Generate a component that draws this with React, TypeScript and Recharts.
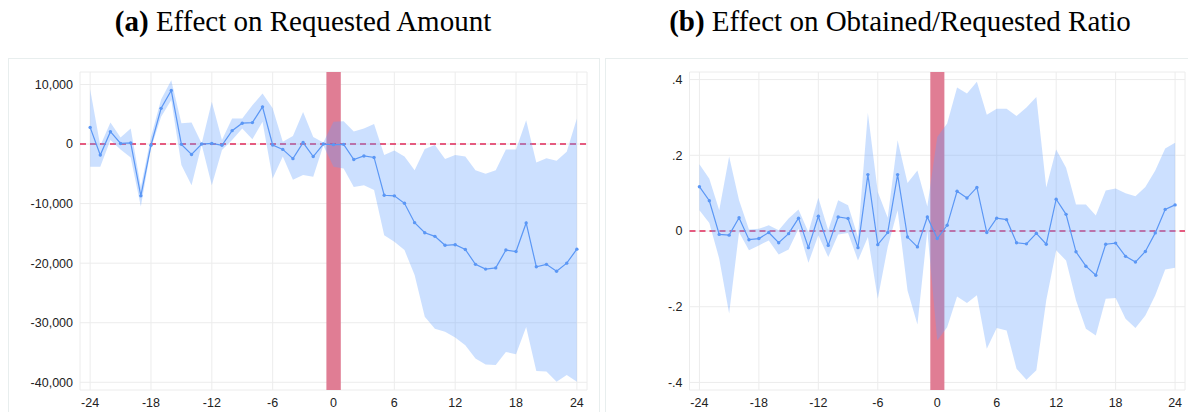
import React from 'react';
import {
  ComposedChart, Line, Area, XAxis, YAxis, CartesianGrid, ReferenceLine, ReferenceArea,
} from 'recharts';

// event time, months relative to treatment
const periods = [
  -24, -23, -22, -21, -20, -19, -18, -17, -16, -15, -14, -13, -12, -11, -10, -9, -8,
  -7, -6, -5, -4, -3, -2, -1, 0, 1, 2, 3, 4, 5, 6, 7, 8, 9, 10, 11, 12, 13, 14, 15, 16,
  17, 18, 19, 20, 21, 22, 23, 24,
];

// (a) requested amount
const amountCoef = [
  2800, -1850, 2070, 100, 200, -8700, -200, 6000, 9000, -50, -1750, 0, 100, -200, 2250, 3500, 3600,
  6250, -150, -900, -2450, 250, -2100, 0, -100, -50, -2600, -2000, -2250, -8600, -8700, -9950, -13200,
  -14900, -15500, -17000, -16900, -17700, -20200, -21000, -20800, -17800, -18050, -13250, -20600,
  -20200, -21350, -20000, -17650,
];
const amountHigh = [
  9200, -300, 3600, 1100, 2600, -7200, 1200, 7500, 10700, 3500, 3600, 100, 7100, 700, 4300, 4300, 6500,
  8500, 6000, 400, 1350, 5400, 1200, 250, 3750, 3850, 2100, 2600, 3350, -1850, -1100, -2100, -4400,
  -850, -150, -2500, -1850, -2100, -4400, -5000, -4400, -900, -900, 4000, -3100, -2400, -2800, -1300, 4300,
];
const amountLow = [
  -3800, -3800, 700, -900, -2250, -10500, -700, 4600, 7400, -3500, -6900, -100, -6900, -1000, 700, 2600, 800,
  3750, -5800, -2100, -6000, -5200, -5500, -250, -3800, -4100, -7200, -6900, -7700, -15300, -16400, -17800,
  -22000, -29000, -31000, -31500, -32500, -33800, -36000, -37000, -37100, -34900, -35300, -30700, -38100,
  -38200, -39900, -38800, -39900,
];

// (b) obtained / requested ratio
const ratioCoef = [
  0.117, 0.080, -0.009, -0.011, 0.035, -0.023, -0.020, -0.004, -0.031, -0.007, 0.034, -0.044, 0.039,
  -0.038, 0.037, 0.033, -0.044, 0.149, -0.036, -0.004, 0.149, -0.016, -0.042, 0.037, -0.020, 0.015,
  0.105, 0.087, 0.115, -0.004, 0.034, 0.030, -0.031, -0.034, -0.006, -0.035, 0.084, 0.044, -0.055,
  -0.093, -0.117, -0.035, -0.032, -0.067, -0.082, -0.054, -0.005, 0.057, 0.069,
];
const ratioHigh = [
  0.176, 0.138, 0.055, 0.197, 0.081, 0.004, 0.006, 0.015, 0.002, 0.033, 0.057, -0.003, 0.088, 0.002,
  0.081, 0.068, -0.016, 0.312, 0.103, 0.035, 0.240, 0.127, 0.160, 0.065, 0.248, 0.284, 0.379, 0.363,
  0.394, 0.307, 0.323, 0.323, 0.304, 0.326, 0.354, 0.115, 0.215, 0.167, 0.070, 0.070, 0.041, 0.107,
  0.112, 0.100, 0.092, 0.116, 0.160, 0.218, 0.233,
];
const ratioLow = [
  0.055, 0.021, -0.073, -0.218, -0.003, -0.051, -0.038, -0.025, -0.062, -0.049, 0.006, -0.084, -0.011,
  -0.069, -0.009, -0.005, -0.078, -0.016, -0.179, -0.042, 0.055, -0.157, -0.247, 0.0, -0.289, -0.254,
  -0.173, -0.190, -0.170, -0.311, -0.256, -0.263, -0.364, -0.393, -0.368, -0.183, -0.051, -0.078,
  -0.183, -0.258, -0.276, -0.179, -0.177, -0.232, -0.256, -0.223, -0.170, -0.102, -0.097,
];

const xTicks = [-24, -18, -12, -6, 0, 6, 12, 18, 24];
const amountTicks = [-40000, -30000, -20000, -10000, 0, 10000];
const ratioTicks = [-0.4, -0.2, 0, 0.2, 0.4];

const LINE = '#5b97f5';
const BAND = 'rgb(100,160,255)';
const BAR = '#e07d94';
const ZERO = '#e0285a';
const GRID = '#ececec';
const tickStyle = { fontFamily: '"Liberation Sans", Arial, sans-serif', fontSize: 12.5, fill: '#222' };

const buildRows = (coef: number[], low: number[], high: number[]) =>
  periods.map((p, i) => ({ t: p, coef: coef[i], band: [low[i], high[i]] }));

const fmtAmount = (v: number) => v.toLocaleString('en-US');
const fmtRatio = (v: number) => {
  if (v === 0) return '0';
  const s = Math.abs(v).toFixed(1).replace(/^0/, '');
  return (v < 0 ? '-' : '') + s;
};

type PanelProps = {
  rows: any[];
  width: number;
  yWidth: number;
  rightMargin: number;
  domain: [number, number];
  ticks: number[];
  fmt: (v: number) => string;
};

function Panel({ rows, width, yWidth, rightMargin, domain, ticks, fmt }: PanelProps) {
  return (
    <ComposedChart width={width} height={354} data={rows}
      margin={{ top: 14, right: rightMargin, left: 0, bottom: 0 }}>
      <CartesianGrid stroke={GRID} strokeWidth={1} />
      <XAxis dataKey="t" type="number" domain={[-25, 25]} ticks={xTicks} allowDataOverflow
        axisLine={false} tickLine={false} tickSize={0} tickMargin={8} height={22} tick={tickStyle} interval={0} />
      <YAxis type="number" domain={domain} ticks={ticks} allowDataOverflow tickFormatter={fmt}
        axisLine={false} tickLine={false} tickSize={0} tickMargin={7} width={yWidth} tick={tickStyle} interval={0} />
      <ReferenceArea x1={-0.7} x2={0.72} fill={BAR} fillOpacity={1} stroke="none" zIndex={50} />
      <ReferenceLine y={0} stroke={ZERO} strokeWidth={1.5} strokeDasharray="6 4" zIndex={60} />
      <Area dataKey="band" type="linear" stroke="none" fill={BAND} fillOpacity={0.33}
        isAnimationActive={false} activeDot={false} zIndex={100} />
      <Line dataKey="coef" type="linear" stroke={LINE} strokeWidth={1.2}
        dot={{ r: 1.7, fill: LINE, stroke: LINE, strokeWidth: 0 }} activeDot={false}
        isAnimationActive={false} zIndex={400} />
    </ComposedChart>
  );
}

const titleStyle: React.CSSProperties = {
  position: 'absolute', top: 4, fontFamily: '"Liberation Serif", "Times New Roman", serif',
  fontSize: 29, lineHeight: '34px', color: '#000', whiteSpace: 'nowrap', transform: 'translateX(-50%)',
};

export default function App() {
  const amountRows = buildRows(amountCoef, amountLow, amountHigh);
  const ratioRows = buildRows(ratioCoef, ratioLow, ratioHigh);
  return (
    <div style={{ position: 'absolute', left: 0, top: 0, width: 1188, height: 412, overflow: 'hidden', background: '#fff' }}>
      <div style={{ ...titleStyle, left: 303 }}><b>(a)</b> Effect on Requested Amount</div>
      <div style={{ ...titleStyle, left: 900 }}><b>(b)</b> Effect on Obtained/Requested Ratio</div>

      <div style={{ position: 'absolute', left: 8, top: 58, width: 590, height: 370, border: '1px solid #e8eeee' }} />
      <div style={{ position: 'absolute', left: 605, top: 58, width: 600, height: 370, border: '1px solid #e8eeee' }} />

      <div style={{ position: 'absolute', left: 8, top: 58 }}>
        <Panel rows={amountRows} width={590} yWidth={72} rightMargin={11}
          domain={[-41300, 12100]} ticks={amountTicks} fmt={fmtAmount} />
      </div>
      <div style={{ position: 'absolute', left: 606, top: 58 }}>
        <Panel rows={ratioRows} width={582} yWidth={83.5} rightMargin={3}
          domain={[-0.42, 0.42]} ticks={ratioTicks} fmt={fmtRatio} />
      </div>
    </div>
  );
}
